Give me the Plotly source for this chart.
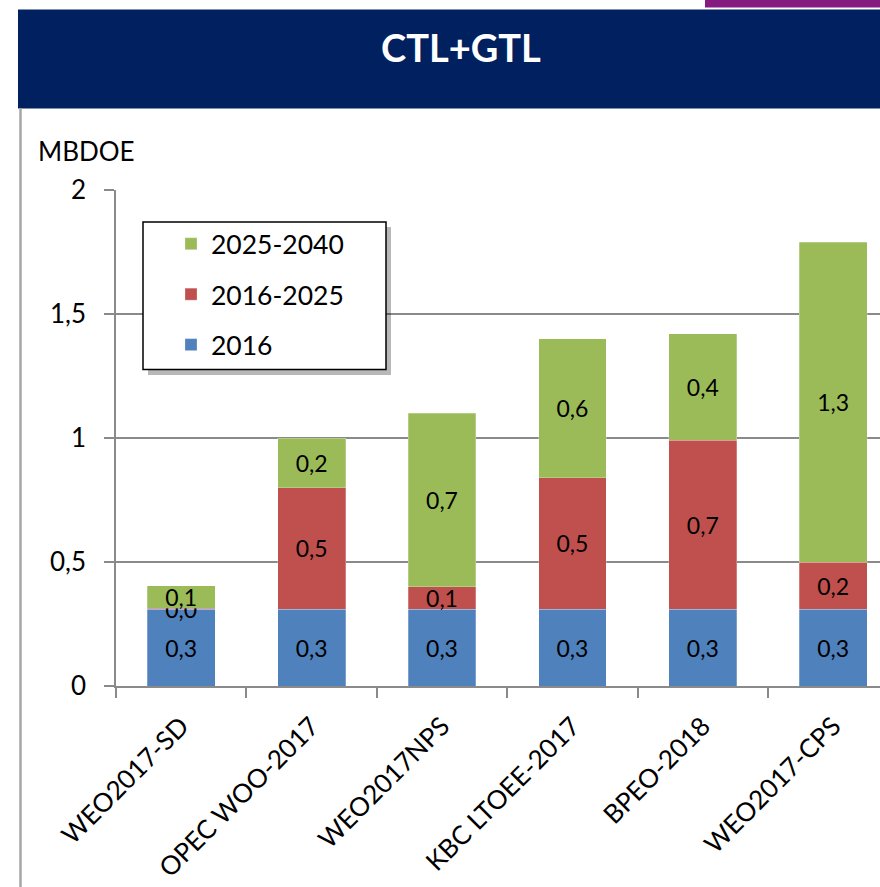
import plotly.graph_objects as go

# ---- data ----
categories = ["WEO2017-SD", "OPEC WOO-2017", "WEO2017NPS", "KBC LTOEE-2017", "BPEO-2018", "WEO2017-CPS"]
series_names = ["2016", "2016-2025", "2025-2040"]
v_2016 = [0.31, 0.31, 0.31, 0.31, 0.31, 0.31]
v_2016_2025 = [0.004, 0.49, 0.09, 0.53, 0.68, 0.19]
v_2025_2040 = [0.09, 0.20, 0.70, 0.56, 0.43, 1.29]
y_ticks = [0, 0.5, 1, 1.5, 2]
title_text = "CTL+GTL"
unit_text = "MBDOE"

colors = ["#4F81BD", "#C0504D", "#9BBB59"]
legend_ranks = [3, 2, 1]

W, H = 880, 887
L, R, T, B = 116, 0, 190, 201
PW = W - L - R
PH = H - T - B


def px(x):
    return (x - L) / PW


def py(y):
    return (H - B - y) / PH


cat_w = 130.4
x_hi = -0.5 + PW / cat_w

fig = go.Figure()
for name, vals, col, rk in zip(series_names, [v_2016, v_2016_2025, v_2025_2040], colors, legend_ranks):
    fig.add_trace(go.Bar(
        x=categories, y=vals, name=name, legendgroup=name, legendrank=rk,
        marker=dict(color=col, line=dict(color="rgba(255,255,255,0.5)", width=0.5)),
        texttemplate="%{y:.1f}", textposition="inside", insidetextanchor="middle",
        constraintext="none", textangle=0,
        textfont=dict(family="Lato", size=23, color="black"),
        cliponaxis=False,
    ))

grid_col = "#8a8a8a"
fig.update_layout(
    width=W, height=H,
    margin=dict(l=L, r=R, t=T, b=B, autoexpand=False),
    paper_bgcolor="white", plot_bgcolor="white",
    barmode="stack", bargap=0.48,
    separators=", ",
    font=dict(family="Lato", color="black"),
    showlegend=True,
    legend=dict(
        x=px(171), y=py(220), xanchor="left", yanchor="top",
        bgcolor="rgba(0,0,0,0)", borderwidth=0,
        font=dict(family="Lato", size=26.5, color="black"),
        traceorder="grouped", tracegroupgap=13,
    ),
    xaxis=dict(
        type="category", range=[-0.5, x_hi],
        showline=True, linecolor=grid_col, linewidth=1.5,
        ticks="outside", tickson="boundaries", ticklen=10, tickcolor=grid_col, tickwidth=1.5,
        tickangle=-45, tickfont=dict(family="Lato", size=26, color="black"),
        ticklabelstandoff=13,
        showgrid=False, zeroline=False,
    ),
    yaxis=dict(
        range=[0, 2], tickvals=y_ticks, tickformat=".1~f",
        showline=True, linecolor=grid_col, linewidth=1.5,
        ticks="outside", ticklen=10, tickcolor=grid_col, tickwidth=1.5,
        showgrid=True, gridcolor=grid_col, gridwidth=1.5, zeroline=False,
        tickfont=dict(family="Lato", size=26, color="black"),
        ticklabelstandoff=13,
    ),
)

shapes = [
    # header band
    dict(type="rect", xref="paper", yref="paper", x0=px(18), x1=px(W + 5), y0=py(108.5), y1=py(9.5),
         fillcolor="#00205F", line=dict(width=0), layer="above"),
    # purple strip
    dict(type="rect", xref="paper", yref="paper", x0=px(705), x1=px(W + 5), y0=py(7.5), y1=py(-5),
         fillcolor="#851B7E", line=dict(width=0), layer="above"),
    # left border line
    dict(type="line", xref="paper", yref="paper", x0=px(20.5), x1=px(20.5), y0=py(108), y1=py(H + 5),
         line=dict(color="#a6a6a6", width=2.5), layer="above"),
    # legend shadow
    dict(type="rect", xref="paper", yref="paper", x0=px(148), x1=px(391), y0=py(375), y1=py(227),
         fillcolor="rgba(0,0,0,0.28)", line=dict(width=0), layer="above"),
    # legend box
    dict(type="rect", xref="paper", yref="paper", x0=px(143), x1=px(386), y0=py(369.5), y1=py(222),
         fillcolor="white", line=dict(color="black", width=1.5), layer="above"),
]
fig.update_layout(shapes=shapes)

fig.add_annotation(xref="paper", yref="paper", x=px(461), y=py(47), text=f"<b>{title_text}</b>",
                   showarrow=False, xanchor="center", yanchor="middle",
                   font=dict(family="Lato", size=38, color="white"))
fig.add_annotation(xref="paper", yref="paper", x=px(36), y=py(151), text=unit_text,
                   showarrow=False, xanchor="left", yanchor="middle",
                   font=dict(family="Lato", size=26, color="black"))

fig.write_html("out.html", config={"displayModeBar": False},
               post_script="document.body.style.margin='0';")
